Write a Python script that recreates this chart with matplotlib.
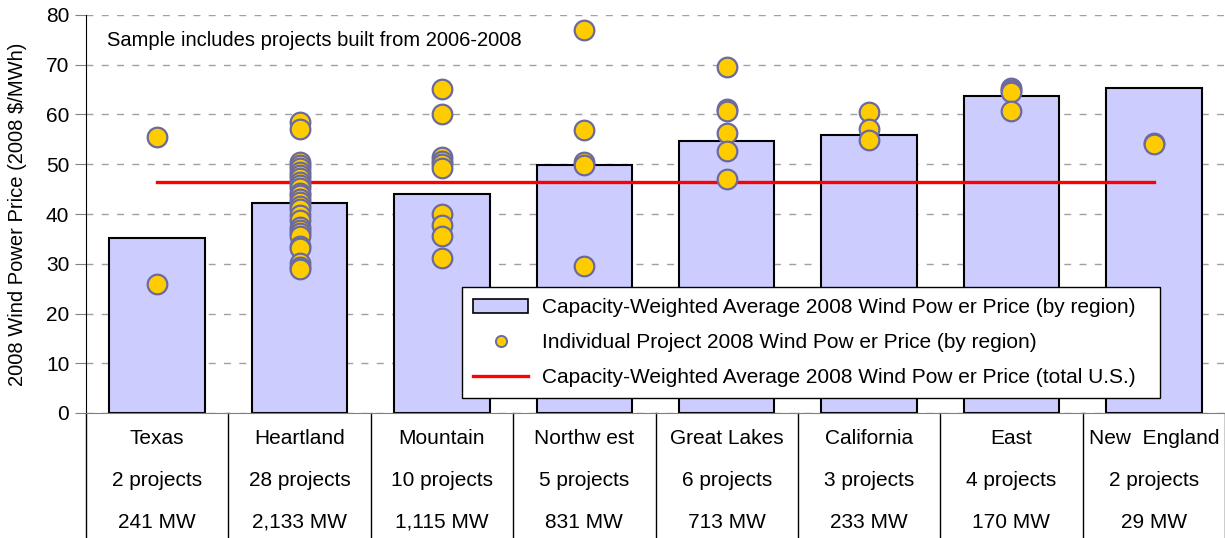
import matplotlib.pyplot as plt
from matplotlib.lines import Line2D
from matplotlib.patches import Patch

plt.rcParams['font.family'] = ['Liberation Sans', 'DejaVu Sans']

# regions and their averages
regions = ['Texas', 'Heartland', 'Mountain', 'Northw est', 'Great Lakes',
           'California', 'East', 'New  England']
n_projects = ['2 projects', '28 projects', '10 projects', '5 projects',
              '6 projects', '3 projects', '4 projects', '2 projects']
capacity = ['241 MW', '2,133 MW', '1,115 MW', '831 MW', '713 MW',
            '233 MW', '170 MW', '29 MW']
avg_price = [35.2, 42.3, 44.0, 49.9, 54.7, 55.9, 63.7, 65.3]
us_avg = 46.4

# individual projects per region
project_prices = [
    [55.4, 25.9],
    [58.4, 57.0, 50.4, 49.8, 49.2, 48.5, 47.8, 47.2, 46.5, 45.8, 45.2, 44.3,
     43.8, 43.0, 42.4, 41.6, 41.1, 39.8, 38.8, 37.4, 36.8, 36.1, 35.5, 33.5,
     33.1, 30.1, 29.4, 29.0],
    [65.1, 60.1, 51.4, 50.6, 50.1, 49.2, 40.0, 37.8, 35.6, 31.1],
    [77.0, 56.9, 50.4, 49.8, 29.5],
    [69.5, 61.1, 60.8, 56.2, 52.6, 47.1],
    [60.6, 57.0, 54.8],
    [65.3, 65.0, 64.6, 60.8],
    [54.2, 54.1],
]

fig = plt.figure(figsize=(12.25, 5.38), dpi=100)
ax = fig.add_axes([86 / 1225, 125 / 538, 1139 / 1225, 398 / 538])

x = list(range(len(regions)))
ax.bar(x, avg_price, width=0.67, color='#ccccff', edgecolor='black',
       linewidth=1.5, zorder=2)

for i, vals in enumerate(project_prices):
    ax.scatter([i] * len(vals), vals, s=200, color='#ffcc00',
               edgecolor='#6a6aa0', linewidth=1.6, zorder=4)

ax.plot([0, len(regions) - 1], [us_avg, us_avg], color='#ff0000',
        linewidth=2.4, zorder=3)

ax.set_xlim(-0.5, len(regions) - 0.5)
ax.set_ylim(0, 80)
ax.set_yticks(range(0, 81, 10))
ax.tick_params(axis='y', labelsize=15, direction='out', length=8,
               color='#808080', pad=4)
ax.set_xticks([])
ax.yaxis.grid(True, linestyle=(0, (5, 6)), color='#a0a0a0', linewidth=1)
ax.set_axisbelow(True)
for s in ['top', 'right']:
    ax.spines[s].set_visible(False)
ax.spines['left'].set_color('black')
ax.spines['bottom'].set_color('#808080')
ax.set_ylabel('2008 Wind Power Price (2008 $/MWh)', fontsize=14.5, labelpad=14)

ax.text(0.018, 0.937, 'Sample includes projects built from 2006-2008',
        transform=ax.transAxes, fontsize=14.5, va='center')

# table under the axis
trans = ax.get_xaxis_transform()
bottom = -125 / 398
for b in [i - 0.5 for i in range(len(regions) + 1)]:
    ax.plot([b, b], [0, bottom], transform=trans, color='black',
            linewidth=1, clip_on=False)
for i in x:
    ax.text(i, -26 / 398, regions[i], transform=trans, ha='center',
            va='center', fontsize=15)
    ax.text(i, -68 / 398, n_projects[i], transform=trans, ha='center',
            va='center', fontsize=15)
    ax.text(i, -109 / 398, capacity[i], transform=trans, ha='center',
            va='center', fontsize=15)

handles = [
    Patch(facecolor='#ccccff', edgecolor='black', linewidth=1.2),
    Line2D([], [], marker='o', linestyle='none', markersize=8,
           markerfacecolor='#ffcc00', markeredgecolor='#6a6aa0',
           markeredgewidth=1.4),
    Line2D([], [], color='#ff0000', linewidth=2.4),
]
labels = ['Capacity-Weighted Average 2008 Wind Pow er Price (by region)',
          'Individual Project 2008 Wind Pow er Price (by region)',
          'Capacity-Weighted Average 2008 Wind Pow er Price (total U.S.)']
leg = ax.legend(handles, labels, loc='lower left',
                bbox_to_anchor=(376 / 1139, 15 / 398, 698 / 1139, 111 / 398),
                mode='expand', fontsize=15, frameon=True, fancybox=False,
                edgecolor='black', framealpha=1, borderpad=0.55,
                borderaxespad=0, labelspacing=0.75, handlelength=2.6,
                handletextpad=0.7, handleheight=0.6)
leg.get_frame().set_linewidth(1)
leg.set_zorder(5)

fig.savefig('out.png', dpi=100)
